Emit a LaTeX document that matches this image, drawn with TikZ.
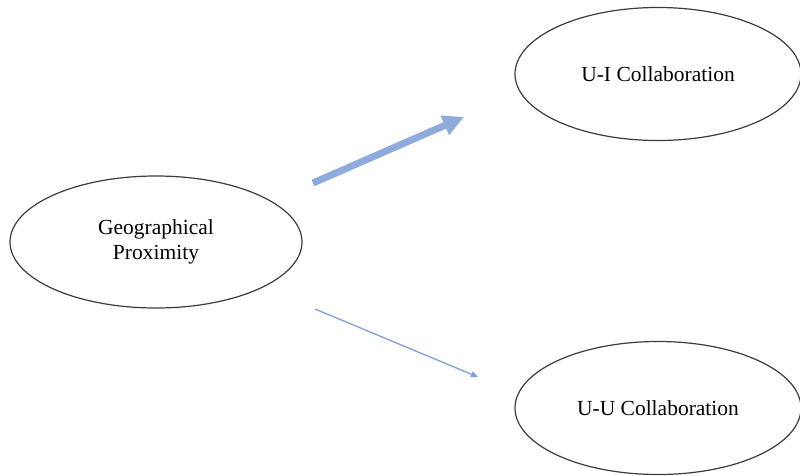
\documentclass[tikz,border=0pt]{standalone}
\usepackage{fontspec}
\setmainfont{Liberation Serif}
\usepackage{tikz}
\usetikzlibrary{arrows.meta,shapes.geometric}
\definecolor{node_gray}{RGB}{60,60,60}
\definecolor{edge_blue}{RGB}{143,170,220}
\definecolor{edge_light}{RGB}{128,158,216}

\begin{document}
\begin{tikzpicture}[x=1pt,y=1pt,semithick]
    \tikzstyle{node}=[draw=node_gray, ellipse, line width=1.2pt, fill=none, text=black, align=center, font=\fontsize{21.5}{25}\selectfont]
    \tikzstyle{big}=[style=node, minimum width=292pt, minimum height=132pt]
    \tikzstyle{side}=[style=node, minimum width=286pt, minimum height=133pt]
    \tikzstyle{strong}=[draw=edge_blue, line width=7pt, -{Triangle[length=21pt,width=20pt]}]
    \tikzstyle{weak}=[draw=edge_light, line width=1.3pt, -{Triangle[length=7pt,width=6pt]}]

    \useasboundingbox (0,0) rectangle (800,475);

    \node[big]  (geo) at (156,233) {Geographical\\Proximity};
    \node[side] (ui)  at (658,401) {U-I Collaboration};
    \node[side] (uu)  at (658,67)  {U-U Collaboration};

    \coordinate (geo-up) at (313,292);
    \coordinate (ui-in)  at (464,358);
    \coordinate (geo-dn) at (315,166);
    \coordinate (uu-in)  at (478,98);

    \path
     (geo-up) edge[strong] (ui-in)
     (geo-dn) edge[weak] (uu-in)
     ;
\end{tikzpicture}
\end{document}
